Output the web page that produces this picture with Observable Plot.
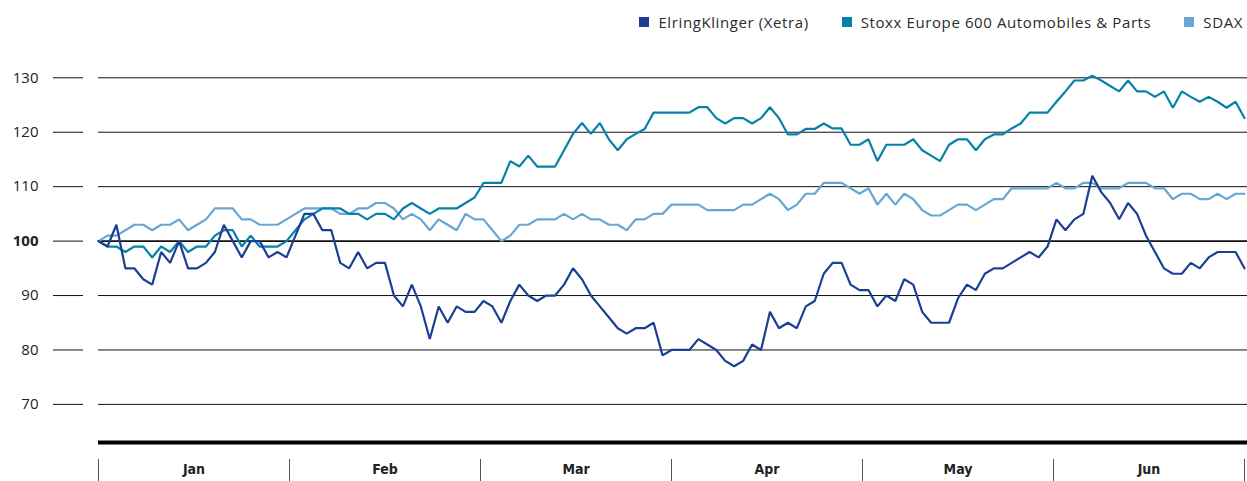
<!DOCTYPE html>
<html><head><meta charset="utf-8">
<script src="https://cdn.jsdelivr.net/npm/d3@7"></script>
<script src="https://cdn.jsdelivr.net/npm/@observablehq/plot@0.6"></script>
<style>
html,body{margin:0;padding:0;background:#fff;}
#legend{height:44px;display:flex;justify-content:flex-end;align-items:center;padding-right:4px;font-family:"Open Sans",sans-serif;font-size:15px;letter-spacing:0.6px;color:#2b2b2b;box-sizing:border-box;}
.item{display:flex;align-items:center;margin-left:33px;white-space:nowrap;}
.sw{width:10px;height:10px;margin-right:9px;}
#chart svg{display:block;}
</style></head><body>
<div id="legend"></div>
<div id="chart"></div>
<script>
const months = ["Jan","Feb","Mar","Apr","May","Jun"];
const seriesNames = ["ElringKlinger (Xetra)","Stoxx Europe 600 Automobiles & Parts","SDAX"];
const seriesColors = ["#1b3f92","#0781a9","#67a7d4"];
const yTicks = [70,80,90,100,110,120,130];

const elring = [100,99,103,95,95,93,92,98,96,100,95,95,96,98,103,100,97,100,100,97,98,97,101,105,105,102,102,96,95,98,95,96,96,90,88,92,88,82,88,85,88,87,87,89,88,85,89,92,90,89,90,90,92,95,93,90,88,86,84,83,84,84,85,79,80,80,80,82,81,80,78,77,78,81,80,87,84,85,84,88,89,94,96,96,92,91,91,88,90,89,93,92,87,85,85,85,89.5,92,91,94,95,95,96,97,98,97,99,104,102,104,105,112,109,107,104,107,105,101,98,95,94,94,96,95,97,98,98,98,95];

const stoxx = [100,99,99,98,99,99,97,99,98,100,98,99,99,101,102,102,99,101,99,99,99,100,102,104,105,106,106,106,105,105,104,105,105,104,106,107,106,105,106,106,106,107,108,110.7,110.7,110.7,114.7,113.7,115.7,113.7,113.7,113.7,116.7,119.7,121.7,119.7,121.7,118.7,116.7,118.7,119.7,120.6,123.6,123.6,123.6,123.6,123.6,124.6,124.6,122.6,121.6,122.6,122.6,121.6,122.6,124.6,122.6,119.6,119.6,120.6,120.6,121.6,120.7,120.7,117.7,117.7,118.7,114.7,117.7,117.7,117.7,118.7,116.7,115.7,114.7,117.7,118.7,118.7,116.7,118.7,119.6,119.6,120.7,121.6,123.6,123.6,123.6,125.6,127.5,129.5,129.5,130.4,129.5,128.5,127.5,129.5,127.5,127.5,126.5,127.5,124.5,127.5,126.5,125.6,126.5,125.6,124.5,125.6,122.6];

const sdax = [100,101,101,102,103,103,102,103,103,104,102,103,104,106,106,106,104,104,103,103,103,104,105,106,106,106,106,105,105,106,106,107,107,106,104,105,104,102,104,103,102,105,104,104,102,100,101,103,103,104,104,104,105,104,105,104,104,103,103,102,104,104,105,105,106.7,106.7,106.7,106.7,105.7,105.7,105.7,105.7,106.7,106.7,107.7,108.7,107.7,105.7,106.7,108.7,108.7,110.7,110.7,110.7,109.7,108.7,109.7,106.7,108.7,106.7,108.7,107.7,105.7,104.7,104.7,105.7,106.7,106.7,105.7,106.7,107.7,107.7,109.7,109.7,109.7,109.7,109.7,110.7,109.7,109.7,110.7,110.7,109.7,109.7,109.7,110.7,110.7,110.7,109.7,109.7,107.7,108.7,108.7,107.7,107.7,108.7,107.7,108.7,108.7];

// legend
const legend = document.getElementById("legend");
seriesNames.forEach((name, k) => {
  const it = document.createElement("div");
  it.className = "item";
  if (k === 0) it.style.marginLeft = "0";
  const sw = document.createElement("span");
  sw.className = "sw";
  sw.style.background = seriesColors[k];
  const tx = document.createElement("span");
  tx.textContent = name;
  it.appendChild(sw); it.appendChild(tx);
  legend.appendChild(it);
});

// long table, drawn back to front
const rows = [];
[[sdax, 2], [stoxx, 1], [elring, 0]].forEach(([arr, k]) => {
  arr.forEach((v, i) => rows.push({i, v, s: seriesNames[k]}));
});

const n = elring.length - 1;
const monthEdges = d3.range(months.length + 1).map(k => k * n / months.length);
const monthMids = d3.range(months.length).map(k => (k + 0.5) * n / months.length);

const chart = Plot.plot({
  width: 1247,
  height: 437,
  marginLeft: 98,
  marginRight: 0,
  marginTop: 33,
  marginBottom: 39,
  x: {domain: [0, n], range: [98, 1244], axis: null},
  y: {domain: [63, 130], range: [398, 33.3], axis: null},
  color: {domain: seriesNames, range: seriesColors},
  style: {fontFamily: "'Open Sans', sans-serif", fontSize: "15px", background: "white", overflow: "visible", color: "#222"},
  marks: [
    Plot.ruleY(yTicks.filter(t => t !== 100), {stroke: "#111", strokeWidth: 1}),
    Plot.ruleY([100], {stroke: "#111", strokeWidth: 1.6}),
    Plot.axisY(yTicks.filter(t => t !== 100), {anchor: "left", tickSize: 30, tickPadding: 15, dx: -15, stroke: "#111", label: null, fontSize: 15}),
    Plot.axisY([100], {anchor: "left", tickSize: 30, tickPadding: 15, dx: -15, stroke: "#111", label: null, fontSize: 15, fontWeight: "bold"}),
    Plot.ruleY([63], {stroke: "#000", strokeWidth: 4}),
    Plot.axisX(monthEdges, {anchor: "bottom", tickSize: 22, dy: 17, stroke: "#555", tickFormat: () => "", label: null}),
    Plot.axisX(monthMids, {anchor: "bottom", tickSize: 0, tickPadding: 22, label: null,
      tickFormat: d => months[Math.round(d / (n / months.length) - 0.5)],
      fontWeight: "bold", fontSize: 14, fontFamily: "'Liberation Sans Narrow', 'DejaVu Sans Condensed', 'Roboto', sans-serif"}),
    Plot.line(rows, {x: "i", y: "v", z: "s", stroke: "s", strokeWidth: 2.2, strokeLinejoin: "miter"})
  ]
});
document.getElementById("chart").appendChild(chart);
</script>
</body></html>
